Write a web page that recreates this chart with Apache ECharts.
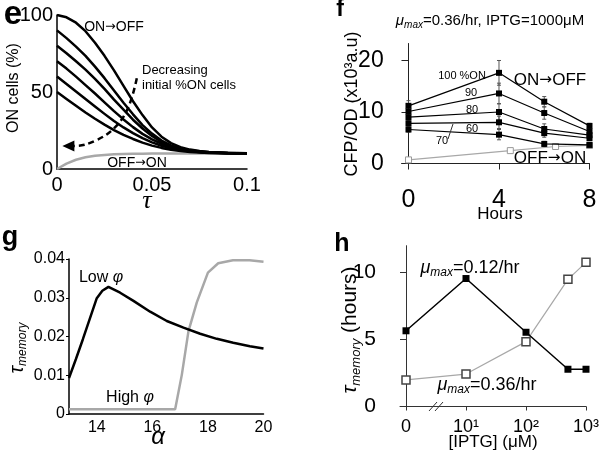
<!DOCTYPE html>
<html><head><meta charset="utf-8">
<script src="https://cdn.jsdelivr.net/npm/echarts@6/dist/echarts.min.js"></script>
<style>html,body{margin:0;padding:0;background:#fff}#c{width:601px;height:458px}</style>
</head><body><div id="c"></div>
<script>
// ---------- Panel e : ON cells (%) vs tau ----------
const tauGrid = [0, 0.005, 0.01, 0.015, 0.02, 0.025, 0.03, 0.035, 0.04, 0.045, 0.05, 0.055, 0.06, 0.065, 0.07, 0.075, 0.08, 0.09, 0.1];
const eOn100 = [100, 98.5, 95, 89.5, 82, 73.5, 64, 54, 44, 35, 27, 21, 16.8, 14.2, 12.6, 11.7, 11.1, 10.5, 10.2];
const eOn90 = [90, 85, 79.5, 73.5, 66.5, 59, 51, 43, 35.5, 28.5, 23, 18.5, 15.3, 13.3, 12.1, 11.4, 10.9, 10.4, 10.1];
const eOn80 = [80, 75.2, 70, 64.5, 58.5, 52, 45, 38.5, 32, 26.3, 21.5, 17.6, 14.8, 13, 11.9, 11.2, 10.8, 10.3, 10.1];
const eOn70 = [70, 65.2, 60, 54.5, 49, 43.3, 37.6, 32.2, 27.2, 22.8, 19.2, 16.4, 14.2, 12.7, 11.7, 11.1, 10.7, 10.3, 10.1];
const eOn60 = [60, 55.2, 50.3, 45.4, 40.6, 35.8, 31.2, 27, 23.3, 20, 17.3, 15.1, 13.5, 12.3, 11.5, 11, 10.6, 10.2, 10.05];
const eOn50 = [50, 45.5, 41, 36.7, 32.6, 28.8, 25.3, 22.2, 19.5, 17.1, 15.2, 13.7, 12.5, 11.7, 11.1, 10.7, 10.4, 10.15, 10];
const eOffOn = [0, 3.5, 6, 7.6, 8.6, 9.1, 9.5, 9.7, 9.85, 9.95, 10, 10, 10, 10, 10, 10, 10, 10, 10];
const eArrowTau = [0.042, 0.0375, 0.0305, 0.02, 0.0095, 0.006];
const eArrowVal = [59, 40, 27, 18.3, 15, 15];
const eXTicks = [0, 0.05, 0.1];
const eYTicks = [0, 50, 100];

// ---------- Panel f : CFP/OD vs hours ----------
const fHours = [0, 4, 6, 8];
const f100 = [11.2, 17.6, 12.0, 7.3];
const f90 = [10.1, 13.6, 9.8, 6.2];
const f80 = [9.0, 10.0, 6.7, 5.5];
const f70 = [7.8, 8.0, 5.9, 4.9];
const f60 = [6.6, 5.6, 3.8, 3.6];
const fErr100 = [1.0, 2.4, 1.0, 0.5];
const fErr90 = [0.8, 2.0, 1.2, 0.4];
const fErr80 = [0.6, 1.6, 1.0, 0.4];
const fErr70 = [0.6, 1.2, 0.8, 0.4];
const fErr60 = [0.5, 1.0, 0.5, 0.3];
const fOffHours = [0, 4.5, 6.5, 8];
const fOffOn = [0.7, 2.5, 3.3, 3.5];
const fXTicks = [0, 4, 8];
const fYTicks = [0, 10, 20];

// ---------- Panel g : tau_memory vs alpha ----------
const gAlphaLow = [13, 13.25, 13.5, 13.75, 14, 14.2, 14.42, 14.84, 15.32, 15.92, 16.52, 17.12, 17.72, 18.32, 18.91, 19.51, 20];
const gTauLow = [0.0093, 0.0142, 0.0193, 0.0246, 0.0299, 0.0318, 0.0328, 0.0313, 0.0292, 0.0264, 0.0240, 0.0223, 0.0207, 0.0194, 0.0184, 0.0175, 0.0169];
const gAlphaHigh = [13, 16.82, 17.06, 17.3, 17.6, 18.0, 18.37, 18.9, 19.5, 20];
const gTauHigh = [0.0012, 0.0012, 0.0101, 0.0214, 0.0288, 0.0365, 0.0389, 0.0397, 0.0397, 0.0393];
const gXTicks = [14, 16, 18, 20];
const gYTicks = [0, 0.01, 0.02, 0.03, 0.04];

// ---------- Panel h : tau_memory (hours) vs IPTG ----------
const hIptg = [0, 10, 100, 500, 1000];
const hMu012 = [5.65, 9.55, 5.54, 2.78, 2.78];
const hMu036 = [1.98, 2.42, 4.84, 9.49, 10.76];
const hXTickPos = [0, 1, 2, 3];
const hXTickLabels = ['0', '10¹', '10²', '10³'];
const hYTicks = [0, 5, 10];

const SANS = '"Liberation Sans", Arial, Helvetica, sans-serif';
const SERIF = '"Liberation Serif", "Times New Roman", serif';
const ARROWF = '"DejaVu Sans", sans-serif';
const BLACK = '#000';
const GRAY = '#a8a8a8';

function iptgPos(v) { return v === 0 ? 0 : Math.log10(v); }
function pairs(xs, ys) { return xs.map((x, i) => [x, ys[i]]); }

const chart = echarts.init(document.getElementById('c'), null, { renderer: 'canvas' });

function axisCommon(extra) {
  return Object.assign({
    type: 'value', splitLine: { show: false },
    axisLine: { show: true, onZero: true, lineStyle: { color: BLACK, width: 1.2 } },
    axisTick: { show: false },
    axisLabel: { color: BLACK, fontFamily: SANS }
  }, extra);
}

const grids = [
  { left: 57, top: 15, width: 190, height: 154, outerBoundsMode: 'none', containLabel: false },
  { left: 401.7, top: 43.5, width: 187.8, height: 120, outerBoundsMode: 'none', containLabel: false },
  { left: 69, top: 259, width: 194.5, height: 155, outerBoundsMode: 'none', containLabel: false },
  { left: 400, top: 245.7, width: 186, height: 160.8, outerBoundsMode: 'none', containLabel: false }
];

const xAxes = [
  axisCommon({ gridIndex: 0, min: 0, max: 0.1,
    axisLine: { show: true, lineStyle: { color: BLACK, width: 1.5 } },
    axisLabel: { color: BLACK, fontFamily: SANS, fontSize: 20, margin: 6, customValues: eXTicks,
      formatter: v => String(+v.toFixed(2)) } }),
  axisCommon({ gridIndex: 1, min: -0.3, max: 8,
    axisLine: { show: true, onZero: true, lineStyle: { color: '#222', width: 1 } },
    axisTick: { show: true, length: 6, customValues: fXTicks, lineStyle: { color: '#222' } },
    axisLabel: { color: BLACK, fontFamily: SANS, fontSize: 25, margin: 24, customValues: fXTicks } }),
  axisCommon({ gridIndex: 2, min: 13, max: 20,
    axisLine: { show: true, lineStyle: { color: BLACK, width: 1.5 } },
    axisLabel: { color: BLACK, fontFamily: SANS, fontSize: 16, margin: 6, customValues: gXTicks } }),
  axisCommon({ gridIndex: 3, min: -0.1, max: 3,
    axisLine: { show: true, onZero: true, lineStyle: { color: '#333', width: 1 } },
    axisTick: { show: true, length: 4, customValues: hXTickPos, lineStyle: { color: '#333' } },
    axisLabel: { color: BLACK, fontFamily: SANS, fontSize: 18, margin: 12, customValues: hXTickPos,
      formatter: v => hXTickLabels[Math.round(v)] } })
];

const yAxes = [
  axisCommon({ gridIndex: 0, min: 0, max: 100,
    axisLine: { show: true, lineStyle: { color: BLACK, width: 1.5 } },
    axisLabel: { color: BLACK, fontFamily: SANS, fontSize: 20, margin: 4, customValues: eYTicks } }),
  axisCommon({ gridIndex: 1, min: 0, max: 23.3,
    axisLine: { show: true, onZero: true, lineStyle: { color: '#222', width: 1 } },
    axisTick: { show: true, length: 7, customValues: fYTicks, lineStyle: { color: '#222' } },
    axisLabel: { color: BLACK, fontFamily: SANS, fontSize: 23, margin: 18, customValues: fYTicks } }),
  axisCommon({ gridIndex: 2, min: 0, max: 0.04,
    axisLine: { show: true, lineStyle: { color: BLACK, width: 1.5 } },
    axisTick: { show: true, length: 3, customValues: gYTicks, lineStyle: { color: BLACK } },
    axisLabel: { color: BLACK, fontFamily: SANS, fontSize: 16, margin: 4, customValues: gYTicks,
      formatter: v => v === 0 ? '0' : v.toFixed(2) } }),
  axisCommon({ gridIndex: 3, min: 0, max: 12,
    axisLine: { show: true, onZero: true, lineStyle: { color: '#333', width: 1 } },
    axisTick: { show: true, length: 6, customValues: hYTicks, lineStyle: { color: '#333' } },
    axisLabel: { color: BLACK, fontFamily: SANS, fontSize: 21, margin: 24, customValues: hYTicks } })
];

const series = [];
// panel e
series.push({ type: 'line', xAxisIndex: 0, yAxisIndex: 0, data: pairs(tauGrid, eOffOn), smooth: false,
  showSymbol: false, symbol: 'none', lineStyle: { color: GRAY, width: 2.5, join: 'round' }, z: 2, silent: true });
[eOn100, eOn90, eOn80, eOn70, eOn60, eOn50].forEach(arr => {
  series.push({ type: 'line', xAxisIndex: 0, yAxisIndex: 0, data: pairs(tauGrid, arr), smooth: false,
    showSymbol: false, symbol: 'none', lineStyle: { color: BLACK, width: 2.5, join: 'round' }, z: 3, silent: true });
});
series.push({ type: 'line', xAxisIndex: 0, yAxisIndex: 0, smooth: 0.4, z: 4, silent: true,
  data: eArrowTau.map((t, i) => i === eArrowTau.length - 1
    ? { value: [t, eArrowVal[i]], symbol: 'triangle', symbolSize: [11, 12], symbolRotate: 90, itemStyle: { color: BLACK } }
    : { value: [t, eArrowVal[i]], symbol: 'none' }),
  showSymbol: true, lineStyle: { color: BLACK, width: 2.5, type: [6, 4] } });

// panel f
function errData(xs, vs, es) { return xs.map((x, i) => [x, vs[i] - es[i], vs[i] + es[i]]); }
const fErrAll = [].concat(errData(fHours, f100, fErr100), errData(fHours, f90, fErr90),
  errData(fHours, f80, fErr80), errData(fHours, f70, fErr70), errData(fHours, f60, fErr60));
series.push({ type: 'custom', xAxisIndex: 1, yAxisIndex: 1, z: 2, silent: true,
  encode: { x: 0, y: [1, 2] }, data: fErrAll,
  renderItem: function (params, api) {
    const x = api.value(0), lo = api.value(1), hi = api.value(2);
    const p1 = api.coord([x, lo]), p2 = api.coord([x, hi]);
    const w = 2, st = { stroke: '#555', lineWidth: 1 };
    return { type: 'group', children: [
      { type: 'line', shape: { x1: p1[0], y1: p1[1], x2: p2[0], y2: p2[1] }, style: st },
      { type: 'line', shape: { x1: p1[0] - w, y1: p1[1], x2: p1[0] + w, y2: p1[1] }, style: st },
      { type: 'line', shape: { x1: p2[0] - w, y1: p2[1], x2: p2[0] + w, y2: p2[1] }, style: st }
    ] };
  } });
series.push({ type: 'line', xAxisIndex: 1, yAxisIndex: 1, data: pairs(fOffHours, fOffOn), z: 3, silent: true,
  symbol: 'rect', symbolSize: 6, itemStyle: { color: '#fff', borderColor: '#999', borderWidth: 1 },
  lineStyle: { color: GRAY, width: 1.2 } });
[f100, f90, f80, f70, f60].forEach(arr => {
  series.push({ type: 'line', xAxisIndex: 1, yAxisIndex: 1, data: pairs(fHours, arr), z: 4, silent: true,
    symbol: 'rect', symbolSize: 6, itemStyle: { color: BLACK }, lineStyle: { color: BLACK, width: 1.2 } });
});

// panel g
series.push({ type: 'line', xAxisIndex: 2, yAxisIndex: 2, data: pairs(gAlphaHigh, gTauHigh), z: 2, silent: true,
  showSymbol: false, symbol: 'none', lineStyle: { color: GRAY, width: 2.5 } });
series.push({ type: 'line', xAxisIndex: 2, yAxisIndex: 2, data: pairs(gAlphaLow, gTauLow), z: 3, silent: true,
  showSymbol: false, symbol: 'none', lineStyle: { color: BLACK, width: 2.5 } });

// panel h
series.push({ type: 'line', xAxisIndex: 3, yAxisIndex: 3, data: hIptg.map((v, i) => [iptgPos(v), hMu036[i]]), z: 2, silent: true,
  symbol: 'rect', symbolSize: 8, itemStyle: { color: '#fff', borderColor: '#444', borderWidth: 1.5 },
  lineStyle: { color: GRAY, width: 1.2 } });
series.push({ type: 'line', xAxisIndex: 3, yAxisIndex: 3, data: hIptg.map((v, i) => [iptgPos(v), hMu012[i]]), z: 3, silent: true,
  symbol: 'rect', symbolSize: 7, itemStyle: { color: BLACK }, lineStyle: { color: BLACK, width: 1.5 } });

// ---------- texts ----------
function txt(x, y, text, o) {
  o = o || {};
  const style = Object.assign({ text: text, fill: BLACK, fontFamily: SANS, fontSize: 14,
    align: o.align || 'center', verticalAlign: 'middle', textAlign: o.align || 'center', textVerticalAlign: 'middle' }, o.style || {});
  return { type: 'text', x: x, y: y, rotation: o.rotation || 0, z: 100, silent: true, style: style };
}
function muRich(size, subSize) {
  return {
    mu: { fontFamily: SANS, fontSize: size, fontStyle: 'italic', lineHeight: size + 4, fill: BLACK, color: BLACK },
    sub: { fontFamily: SANS, fontSize: subSize, fontStyle: 'italic', lineHeight: subSize, verticalAlign: 'bottom', fill: BLACK, color: BLACK },
    n: { fontFamily: SANS, fontSize: size, lineHeight: size + 4, fill: BLACK, color: BLACK }
  };
}
function arrowRich(size) {
  return {
    n: { fontFamily: SANS, fontSize: size, fill: BLACK, color: BLACK },
    a: { fontFamily: ARROWF, fontSize: size * 0.9, fill: BLACK, color: BLACK }
  };
}
const ROT = Math.PI / 2;
const graphics = [
  // e
  txt(13, 15, 'e', { style: { fontSize: 33, fontWeight: 'bold' } }),
  txt(14, 88, 'ON cells (%)', { rotation: ROT, style: { fontSize: 16 } }),
  txt(114, 27, '{n|ON}{a|→}{n|OFF}', { style: { rich: arrowRich(14) } }),
  txt(142, 70, 'Decreasing', { align: 'left', style: { fontSize: 13 } }),
  txt(142, 85, 'initial %ON cells', { align: 'left', style: { fontSize: 13 } }),
  txt(137, 163, '{n|OFF}{a|→}{n|ON}', { style: { rich: arrowRich(14) } }),
  txt(147, 201, 'τ', { style: { fontSize: 26, fontStyle: 'italic', fontFamily: SERIF } }),
  // f
  txt(340, 10, 'f', { style: { fontSize: 23, fontWeight: 'bold' } }),
  txt(490, 21, '{mu|μ}{sub|max}{n|=0.36/hr, IPTG=1000μM}', { style: { rich: muRich(15, 10) } }),
  txt(352, 104, 'CFP/OD (x10³a.u)', { rotation: ROT, style: { fontSize: 18 } }),
  txt(462, 76, '100 %ON', { style: { fontSize: 11 } }),
  txt(471, 93, '90', { style: { fontSize: 11 } }),
  txt(472, 110, '80', { style: { fontSize: 11 } }),
  txt(472, 129, '60', { style: { fontSize: 11 } }),
  txt(442, 141, '70', { style: { fontSize: 11 } }),
  txt(550, 80, '{n|ON}{a|→}{n|OFF}', { style: { rich: arrowRich(17) } }),
  txt(550, 158, '{n|OFF}{a|→}{n|ON}', { style: { rich: arrowRich(17) } }),
  txt(500, 214, 'Hours', { style: { fontSize: 17 } }),
  { type: 'line', z: 100, silent: true, shape: { x1: 448, y1: 139, x2: 453, y2: 124 }, style: { stroke: '#333', lineWidth: 1 } },
  // g
  txt(10, 238, 'g', { style: { fontSize: 27, fontWeight: 'bold' } }),
  txt(101, 278, '{n|Low }{p|φ}', { style: { rich: {
    n: { fontFamily: SANS, fontSize: 16, fill: BLACK, color: BLACK },
    p: { fontFamily: SANS, fontSize: 16, fontStyle: 'italic', fill: BLACK, color: BLACK } } } }),
  txt(130, 398, '{n|High }{p|φ}', { style: { rich: {
    n: { fontFamily: SANS, fontSize: 16, fill: BLACK, color: BLACK },
    p: { fontFamily: SANS, fontSize: 16, fontStyle: 'italic', fill: BLACK, color: BLACK } } } }),
  txt(17, 348, '{mu|τ}{sub|memory}', { rotation: ROT, style: { rich: muRich(20, 12) } }),
  txt(158, 437, 'α', { style: { fontSize: 24, fontStyle: 'italic' } }),
  // h
  txt(342, 244, 'h', { style: { fontSize: 25, fontWeight: 'bold' } }),
  txt(470, 268, '{mu|μ}{sub|max}{n|=0.12/hr}', { style: { rich: muRich(18, 12) } }),
  txt(487, 385, '{mu|μ}{sub|max}{n|=0.36/hr}', { style: { rich: muRich(18, 12) } }),
  txt(350, 330, '{mu|τ}{sub|memory}{n| (hours)}', { rotation: ROT, style: { rich: muRich(21, 13) } }),
  txt(493, 442, '[IPTG] (μM)', { style: { fontSize: 17 } }),
  { type: 'line', z: 100, silent: true, shape: { x1: 429, y1: 411, x2: 437, y2: 402 }, style: { stroke: '#333', lineWidth: 1 } },
  { type: 'line', z: 100, silent: true, shape: { x1: 435, y1: 411, x2: 443, y2: 402 }, style: { stroke: '#333', lineWidth: 1 } }
];

chart.setOption({
  backgroundColor: '#fff',
  animation: false,
  grid: grids,
  xAxis: xAxes,
  yAxis: yAxes,
  series: series,
  graphic: graphics
});
</script>
</body></html>
